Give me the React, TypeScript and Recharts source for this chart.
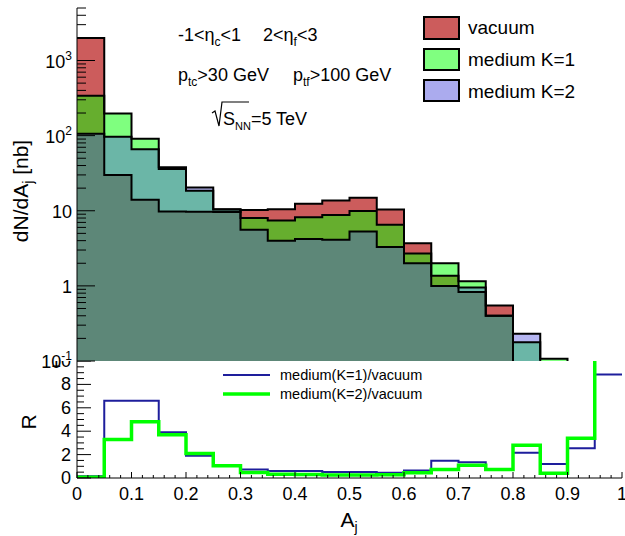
import { ComposedChart, Area, Line, XAxis, YAxis } from 'recharts';

// lower edge of each A_j bin (width 0.05)
const binLow = [0, 0.05, 0.1, 0.15, 0.2, 0.25, 0.3, 0.35, 0.4, 0.45, 0.5, 0.55, 0.6, 0.65, 0.7, 0.75, 0.8, 0.85, 0.9, 0.95];

// dN/dA_j [nb]
const vacuum = [2000, 30, 14, 9.8, 9.7, 9.6, 10.2, 10.5, 12.4, 13.7, 14.9, 10.4, 3.7, 1.36, 0.83, 0.55, 0.082, 0.09, 0.02, 0.005];
const mediumK1 = [340, 197, 91, 38, 18.4, 10.5, 8.0, 7.4, 8.2, 8.8, 9.9, 6.5, 2.7, 2.0, 1.15, 0.4, 0.177, 0.107, 0.05, 0.044];
const mediumK2 = [106, 97, 66, 36, 20.4, 10.4, 5.6, 4.0, 4.2, 4.1, 5.3, 3.3, 2.0, 1.0, 0.95, 0.4, 0.23, 0.036, 0.068, 0.06];

// ratio panel
const ratioK1 = [0.15, 6.6, 6.6, 3.9, 1.9, 1.1, 0.72, 0.6, 0.6, 0.52, 0.52, 0.45, 0.65, 1.47, 1.35, 0.72, 2.15, 1.2, 2.55, 8.85];
const ratioK2 = [0.06, 3.3, 4.8, 3.7, 2.1, 1.05, 0.47, 0.32, 0.3, 0.25, 0.25, 0.27, 0.45, 0.72, 1.1, 0.72, 2.8, 0.4, 3.4, 14];

const xTicks = [0, 0.02, 0.04, 0.06, 0.08, 0.1, 0.12, 0.14, 0.16, 0.18, 0.2, 0.22, 0.24, 0.26, 0.28, 0.3, 0.32, 0.34, 0.36, 0.38, 0.4, 0.42, 0.44, 0.46, 0.48, 0.5, 0.52, 0.54, 0.56, 0.58, 0.6, 0.62, 0.64, 0.66, 0.68, 0.7, 0.72, 0.74, 0.76, 0.78, 0.8, 0.82, 0.84, 0.86, 0.88, 0.9, 0.92, 0.94, 0.96, 0.98, 1];
const logTicks = [
  0.1, 0.2, 0.3, 0.4, 0.5, 0.6, 0.7, 0.8, 0.9,
  1, 2, 3, 4, 5, 6, 7, 8, 9,
  10, 20, 30, 40, 50, 60, 70, 80, 90,
  100, 200, 300, 400, 500, 600, 700, 800, 900,
  1000, 2000, 3000, 4000, 5000,
];
const rTicks = [0, 0.5, 1, 1.5, 2, 2.5, 3, 3.5, 4, 4.5, 5, 5.5, 6, 6.5, 7, 7.5, 8, 8.5, 9, 9.5, 10];

const last = binLow.length - 1;
const upperRows = [
  ...binLow.map((x, i) => ({ x, vac: vacuum[i], k1: mediumK1[i], k2: mediumK2[i] })),
  { x: 1, vac: vacuum[last], k1: mediumK1[last], k2: mediumK2[last] },
];
const lowerRows = [
  ...binLow.map((x, i) => ({ x, r1: ratioK1[i], r2: ratioK2[i] })),
  { x: 1, r1: ratioK1[last], r2: ratioK2[last] },
];

const isTenth = (v: number) => Math.abs(v * 10 - Math.round(v * 10)) < 1e-6;

function UpperXTick(props: any) {
  const { x, y, payload } = props;
  const len = isTenth(payload.value) ? 9 : 5;
  return <line x1={x} x2={x} y1={y} y2={y - len} stroke="#000" />;
}

function LowerXTick(props: any) {
  const { x, y, payload } = props;
  const major = isTenth(payload.value);
  const v = payload.value as number;
  return (
    <g>
      <line x1={x} x2={x} y1={y} y2={y - (major ? 6 : 3)} stroke="#000" />
      {major && (
        <text x={x} y={y + 22} textAnchor="middle" fontSize={18} fill="#000">
          {v === 0 ? '0' : v === 1 ? '1' : v.toFixed(1)}
        </text>
      )}
    </g>
  );
}

function LogYTick(props: any) {
  const { x, y, payload } = props;
  const p = Math.log10(payload.value);
  const e = Math.round(p);
  const major = Math.abs(p - e) < 1e-6;
  return (
    <g>
      <line x1={x} x2={x + (major ? 18 : 9)} y1={y} y2={y} stroke="#000" />
      {major && (
        <text x={x - 5} y={y + 7} textAnchor="end" fontSize={18} fill="#000">
          {e === 0 ? '1' : '10'}
          {(e < 0 || e > 1) && (
            <tspan dy={-8} fontSize={12}>
              {e}
            </tspan>
          )}
        </text>
      )}
    </g>
  );
}

function RatioYTick(props: any) {
  const { x, y, payload } = props;
  const v = payload.value as number;
  const major = v % 2 === 0;
  return (
    <g>
      <line x1={x} x2={x + (major ? 14 : 7)} y1={y} y2={y} stroke="#000" />
      {major && (
        <text x={x - 6} y={y + 6} textAnchor="end" fontSize={18} fill="#000">
          {v}
        </text>
      )}
    </g>
  );
}

const axisLine = { stroke: '#000', strokeWidth: 1 };

export default function App() {
  return (
    <div
      style={{
        position: 'absolute',
        left: 0,
        top: 0,
        width: 625,
        height: 536,
        background: '#fff',
        fontFamily: '"Liberation Sans", Arial, sans-serif',
      }}
    >
      <div style={{ position: 'absolute', left: 0, top: 0 }}>
        <ComposedChart width={625} height={380} data={upperRows} margin={{ top: 8, right: 3, bottom: 19, left: 0 }}>
          <Area dataKey="vac" type="stepAfter" fill="#CC5C5C" fillOpacity={1} stroke="none" baseValue={0.1} isAnimationActive={false} />
          <Area dataKey="k1" type="stepAfter" fill="#00FF00" fillOpacity={0.5} stroke="none" baseValue={0.1} isAnimationActive={false} />
          <Area dataKey="k2" type="stepAfter" fill="#5050E0" fillOpacity={0.42} stroke="none" baseValue={0.1} isAnimationActive={false} />
          <Line dataKey="vac" type="stepAfter" stroke="#000" strokeWidth={2} dot={false} isAnimationActive={false} />
          <Line dataKey="k1" type="stepAfter" stroke="#000" strokeWidth={2} dot={false} isAnimationActive={false} />
          <Line dataKey="k2" type="stepAfter" stroke="#000" strokeWidth={2} dot={false} isAnimationActive={false} />
          <XAxis
            dataKey="x"
            type="number"
            domain={[0, 1]}
            ticks={xTicks}
            interval={0}
            allowDataOverflow
            height={0}
            tickLine={false}
            tickSize={0}
            tickMargin={0}
            tick={<UpperXTick />}
            axisLine={axisLine}
          />
          <XAxis xAxisId="top" orientation="top" type="number" domain={[0, 1]} height={0} tick={false} tickLine={false} axisLine={axisLine} />
          <YAxis
            type="number"
            scale="log"
            domain={[0.1, 5000]}
            ticks={logTicks}
            interval={0}
            allowDataOverflow
            width={77}
            tickLine={false}
            tickSize={0}
            tickMargin={0}
            tick={<LogYTick />}
            axisLine={axisLine}
          />
          <YAxis yAxisId="right" orientation="right" width={0} tick={false} tickLine={false} axisLine={axisLine} />
        </ComposedChart>
      </div>
      <div style={{ position: 'absolute', left: 0, top: 361 }}>
        <ComposedChart width={625} height={175} data={lowerRows} margin={{ top: 0, right: 3, bottom: 0, left: 0 }}>
          <Line dataKey="r1" type="stepAfter" stroke="#1E1E9C" strokeWidth={2} dot={false} isAnimationActive={false} />
          <Line dataKey="r2" type="stepAfter" stroke="#00FF00" strokeWidth={3.5} dot={false} isAnimationActive={false} />
          <XAxis
            dataKey="x"
            type="number"
            domain={[0, 1]}
            ticks={xTicks}
            interval={0}
            allowDataOverflow
            height={58}
            tickLine={false}
            tickSize={0}
            tickMargin={0}
            tick={<LowerXTick />}
            axisLine={axisLine}
          />
          <XAxis xAxisId="top" orientation="top" type="number" domain={[0, 1]} height={0} tick={false} tickLine={false} axisLine={axisLine} />
          <YAxis
            type="number"
            domain={[0, 10]}
            ticks={rTicks}
            interval={0}
            allowDataOverflow
            width={77}
            tickLine={false}
            tickSize={0}
            tickMargin={0}
            tick={<RatioYTick />}
            axisLine={axisLine}
          />
          <YAxis yAxisId="right" orientation="right" width={0} tick={false} tickLine={false} axisLine={axisLine} />
        </ComposedChart>
      </div>
      <svg width={625} height={536} style={{ position: 'absolute', left: 0, top: 0, pointerEvents: 'none' }}>
        {/* cuts */}
        <text x={178} y={41} fontSize={18}>
          {'-1<η'}
          <tspan dy={5} fontSize={12}>c</tspan>
          <tspan dy={-5}>{'<1'}</tspan>
        </text>
        <text x={263} y={41} fontSize={18}>
          {'2<η'}
          <tspan dy={5} fontSize={12}>f</tspan>
          <tspan dy={-5}>{'<3'}</tspan>
        </text>
        <text x={178} y={81} fontSize={18}>
          p<tspan dy={5} fontSize={12}>tc</tspan>
          <tspan dy={-5}>{'>30 GeV'}</tspan>
        </text>
        <text x={293} y={81} fontSize={18}>
          p<tspan dy={5} fontSize={12}>tf</tspan>
          <tspan dy={-5}>{'>100 GeV'}</tspan>
        </text>
        <path d="M212,113 L215,111 L219,126 L222,102 L249,102" fill="none" stroke="#000" strokeWidth={1.2} />
        <text x={223} y={125} fontSize={18}>
          S<tspan dy={5} fontSize={11}>NN</tspan>
          <tspan dy={-5}>=5 TeV</tspan>
        </text>

        {/* legend, upper panel */}
        <rect x={424} y={17} width={35} height={22} fill="#CC5C5C" stroke="#000" strokeWidth={2} />
        <rect x={424} y={49} width={35} height={21} fill="#80FF80" stroke="#000" strokeWidth={2} />
        <rect x={424} y={80} width={35} height={21} fill="#ABABEE" stroke="#000" strokeWidth={2} />
        <text x={468} y={34} fontSize={19}>vacuum</text>
        <text x={468} y={66} fontSize={19}>medium K=1</text>
        <text x={468} y={98} fontSize={19}>medium K=2</text>

        {/* legend, ratio panel */}
        <line x1={223} x2={270} y1={375} y2={375} stroke="#1E1E9C" strokeWidth={2} />
        <line x1={223} x2={270} y1={394} y2={394} stroke="#00FF00" strokeWidth={3.5} />
        <text x={280} y={380} fontSize={14.5}>medium(K=1)/vacuum</text>
        <text x={280} y={399} fontSize={14.5}>medium(K=2)/vacuum</text>

        {/* axis titles */}
        <text transform="translate(28,191) rotate(-90)" textAnchor="middle" fontSize={21}>
          dN/dA<tspan dy={5} fontSize={14}>j</tspan>
          <tspan dy={-5}> [nb]</tspan>
        </text>
        <text transform="translate(36,422) rotate(-90)" textAnchor="middle" fontSize={21}>
          R
        </text>
        <text x={349} y={527} textAnchor="middle" fontSize={21}>
          A<tspan dy={5} fontSize={14}>j</tspan>
        </text>
      </svg>
    </div>
  );
}
